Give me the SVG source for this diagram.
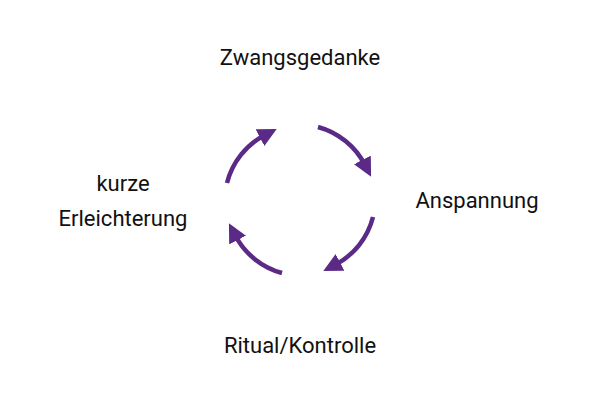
<svg xmlns="http://www.w3.org/2000/svg" width="600" height="400" viewBox="0 0 600 400">
<style>
text{font-family:Roboto,"Liberation Sans",sans-serif;font-size:22px;fill:#111;text-anchor:middle}
.a{fill:none;stroke:#5b2a86;stroke-width:4.5;stroke-linecap:butt}
</style>
<defs><marker id="h" viewBox="0 0 10 10" refX="3" refY="5" markerWidth="4.2" markerHeight="4.2" orient="auto" markerUnits="strokeWidth"><path d="M0,0L10,5L0,10z" fill="#5b2a86"/></marker></defs>
<rect width="600" height="400" fill="#fff"/>
<g id="connectors">
<path class="a" marker-end="url(#h)" d="M318,127 A75,75 0 0 1 365,165"/>
<path class="a" marker-end="url(#h)" d="M373,217 A75,75 0 0 1 335,265"/>
<path class="a" marker-end="url(#h)" d="M282,273 A75,75 0 0 1 235,235"/>
<path class="a" marker-end="url(#h)" d="M227,183 A75,75 0 0 1 265,135"/>
</g>
<g id="n1"><text x="300" y="65">Zwangsgedanke</text></g>
<g id="n2"><text x="477" y="208">Anspannung</text></g>
<g id="n3"><text x="300" y="353">Ritual/Kontrolle</text></g>
<g id="n4"><text x="123" y="191">kurze</text><text x="123" y="226">Erleichterung</text></g>
</svg>
